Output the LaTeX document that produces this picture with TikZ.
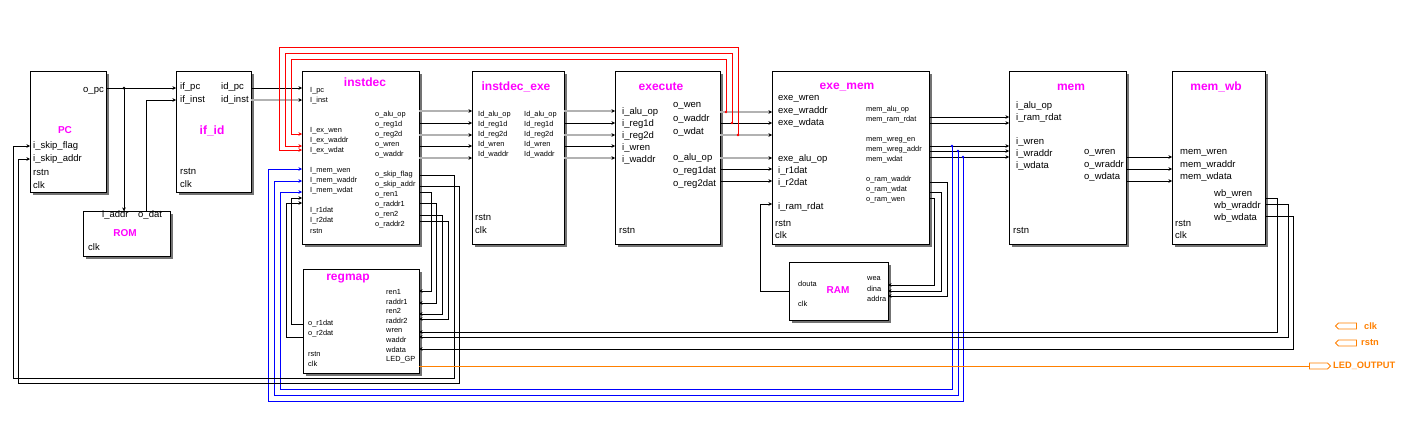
\documentclass[tikz,border=0pt]{standalone}
\usepackage{fontspec}
\setmainfont{Liberation Sans}
\usetikzlibrary{arrows.meta,shapes.symbols}
\definecolor{mag}{RGB}{255,0,255}
\definecolor{org}{RGB}{255,128,0}
\definecolor{busgray}{RGB}{178,178,178}
\definecolor{wblue}{RGB}{0,0,255}
\definecolor{wred}{RGB}{255,0,0}
\begin{document}
\begin{tikzpicture}[x=1pt,y=-1pt,
  blk/.style={draw=black, line width=0.9pt, fill=white, anchor=north west, inner sep=0pt,
    preaction={fill=black!55, draw=none, transform canvas={shift={(2.2pt,-2.2pt)}}}},
  ttl/.style={text=mag, font=\bfseries\fontsize{12}{12}\selectfont, inner sep=0pt},
  ttls/.style={text=mag, font=\bfseries\fontsize{10}{10}\selectfont, inner sep=0pt},
  lb/.style={font=\fontsize{9.5}{9.5}\selectfont, inner sep=0pt, anchor=west},
  ls/.style={font=\fontsize{7.4}{7.4}\selectfont, inner sep=0pt, anchor=west},
  wire/.style={line width=0.9pt, draw=black},
  bus/.style={line width=1.7pt, draw=busgray},
  redw/.style={line width=0.9pt, draw=wred},
  bluew/.style={line width=0.9pt, draw=wblue},
  orgw/.style={line width=0.9pt, draw=org},
  arr/.style={-{Stealth[length=3.5pt,width=3.5pt]}},
  arrk/.style={-{Stealth[length=3.5pt,width=3.5pt,black]}},
  port/.style={signal, draw=org, line width=0.9pt, minimum width=21pt, minimum height=6pt, inner sep=0pt},
  plbl/.style={text=org, font=\bfseries\fontsize{9.3}{9.3}\selectfont, inner sep=0pt, anchor=west},
  dot/.style={circle, fill, inner sep=0pt, minimum size=3pt}
]
\fill[white] (0,0) rectangle (1408,442);
\useasboundingbox (0,0) rectangle (1408,442);

% ---------------- blocks ----------------
\node[blk, minimum width=76pt, minimum height=121pt] (pc) at (30,71) {};
\node[blk, minimum width=87pt, minimum height=45pt] (rom) at (83,211) {};
\node[blk, minimum width=75pt, minimum height=121pt] (ifid) at (176,71) {};
\node[blk, minimum width=117pt, minimum height=173pt] (instdec) at (302,71) {};
\node[blk, minimum width=116pt, minimum height=104pt] (regmap) at (303,269) {};
\node[blk, minimum width=92pt, minimum height=173pt] (idexe) at (472,71) {};
\node[blk, minimum width=105pt, minimum height=173pt] (execute) at (615,71) {};
\node[blk, minimum width=157pt, minimum height=173pt] (exemem) at (772,71) {};
\node[blk, minimum width=99pt, minimum height=58pt] (ram) at (789,262) {};
\node[blk, minimum width=117pt, minimum height=173pt] (mem) at (1009,71) {};
\node[blk, minimum width=93pt, minimum height=173pt] (memwb) at (1172,71) {};

% ---------------- titles ----------------
\node[ttls] (tpc) at (65,130) {PC};
\node[ttls] (trom) at (125,233) {ROM};
\node[ttl] (tifid) at (212,131) {if\_id};
\node[ttl] (tinstdec) at (365,82) {instdec};
\node[ttl] (tregmap) at (348,279) {regmap};
\node[ttl] (tidexe) at (516,87) {instdec\_exe};
\node[ttl] (texecute) at (661,87) {execute};
\node[ttl] (texemem) at (847,87) {exe\_mem};
\node[ttls] (tram) at (838,290) {RAM};
\node[ttl] (tmem) at (1071,87) {mem};
\node[ttl] (tmemwb) at (1216,87) {mem\_wb};

% ---------------- labels ----------------
\node[lb, anchor=east] (l-opc) at (104,91) {o\_pc};
\foreach \t/\y [count=\i] in {i\_skip\_flag/146, i\_skip\_addr/159, rstn/172, clk/185}
  \node[lb] (lpc\i) at (33,\y) {\t};
\node[lb] (lrom1) at (102,215) {i\_addr};
\node[lb] (lrom2) at (138,215) {o\_dat};
\node[lb] (lrom3) at (88,247) {clk};
\foreach \t/\y [count=\i] in {if\_pc/87, if\_inst/100, rstn/171, clk/184}
  \node[lb] (lifa\i) at (180,\y) {\t};
\foreach \t/\y [count=\i] in {id\_pc/87, id\_inst/100}
  \node[lb] (lifb\i) at (221,\y) {\t};

\foreach \t/\y [count=\i] in {I\_pc/91, I\_inst/101, I\_ex\_wen/131, I\_ex\_waddr/141, I\_ex\_wdat/151,
   I\_mem\_wen/171, I\_mem\_waddr/181, I\_mem\_wdat/191, I\_r1dat/211, I\_r2dat/221, rstn/231}
  \node[ls] (lida\i) at (310,\y) {\t};
\foreach \t/\y [count=\i] in {o\_alu\_op/115, o\_reg1d/125, o\_reg2d/135, o\_wren/145, o\_waddr/155,
   o\_skip\_flag/175, o\_skip\_addr/185, o\_ren1/195, o\_raddr1/205, o\_ren2/215, o\_raddr2/225}
  \node[ls] (lidb\i) at (375,\y) {\t};

\foreach \t/\y [count=\i] in {ren1/292, raddr1/302, ren2/311, raddr2/321, wren/331, waddr/340, wdata/350, LED\_GP/360}
  \node[ls] (lrga\i) at (386,\y) {\t};
\foreach \t/\y [count=\i] in {o\_r1dat/324, o\_r2dat/334, rstn/354, clk/364}
  \node[ls] (lrgb\i) at (308,\y) {\t};

\foreach \t/\y [count=\i] in {Id\_alu\_op/115, Id\_reg1d/125, Id\_reg2d/135, Id\_wren/145, Id\_waddr/155} {
  \node[ls] (ldea\i) at (478,\y) {\t};
  \node[ls] (ldeb\i) at (524,\y) {\t};
}
\node[lb] (ldec1) at (475,217) {rstn};
\node[lb] (ldec2) at (475,230) {clk};

\foreach \t/\y [count=\i] in {i\_alu\_op/112, i\_reg1d/124, i\_reg2d/136, i\_wren/148, i\_waddr/160}
  \node[lb] (lexa\i) at (622,\y) {\t};
\foreach \t/\y [count=\i] in {o\_wen/106, o\_waddr/119, o\_wdat/132, o\_alu\_op/158, o\_reg1dat/171, o\_reg2dat/184}
  \node[lb] (lexb\i) at (673,\y) {\t};
\node[lb] (lexc) at (619,230) {rstn};

\foreach \t/\y [count=\i] in {exe\_wren/99, exe\_wraddr/111, exe\_wdata/123, exe\_alu\_op/159, i\_r1dat/171, i\_r2dat/183, i\_ram\_rdat/207}
  \node[lb] (lema\i) at (778,\y) {\t};
\node[lb] (lemc1) at (775,223) {rstn};
\node[lb] (lemc2) at (775,235) {clk};
\foreach \t/\y [count=\i] in {mem\_alu\_op/110, mem\_ram\_rdat/120, mem\_wreg\_en/140, mem\_wreg\_addr/150, mem\_wdat/160,
   o\_ram\_waddr/180, o\_ram\_wdat/190, o\_ram\_wen/200}
  \node[ls] (lemb\i) at (866,\y) {\t};

\node[ls] (lram1) at (798,284) {douta};
\node[ls] (lram2) at (798,304) {clk};
\foreach \t/\y [count=\i] in {wea/279, dina/289, addra/299}
  \node[ls] (lramb\i) at (867,\y) {\t};

\foreach \t/\y [count=\i] in {i\_alu\_op/106, i\_ram\_rdat/118, i\_wren/142, i\_wraddr/154, i\_wdata/166}
  \node[lb] (lmema\i) at (1016,\y) {\t};
\foreach \t/\y [count=\i] in {o\_wren/153, o\_wraddr/165, o\_wdata/177}
  \node[lb] (lmemb\i) at (1084,\y) {\t};
\node[lb] (lmemc) at (1013,230) {rstn};

\foreach \t/\y [count=\i] in {mem\_wren/153, mem\_wraddr/165, mem\_wdata/177}
  \node[lb] (lwba\i) at (1180,\y) {\t};
\foreach \t/\y [count=\i] in {wb\_wren/194, wb\_wraddr/206, wb\_wdata/218}
  \node[lb] (lwbb\i) at (1214,\y) {\t};
\node[lb] (lwbc1) at (1175,223) {rstn};
\node[lb] (lwbc2) at (1175,235) {clk};

% ---------------- ports ----------------
\node[port, signal to=west] (pclk) at (1347.5,326) {};
\node[plbl] (pclkl) at (1364,326) {clk};
\node[port, signal to=west] (prstn) at (1347.5,343) {};
\node[plbl] (prstnl) at (1361,343) {rstn};
\node[port, signal to=east] (pled) at (1318.5,366) {};
\node[plbl] (pledl) at (1333,366) {LED\_OUTPUT};

% ---------------- wires: fetch ----------------
\coordinate (pc-opc) at (106,88);
\coordinate (ifid-ifpc) at (176,88);
\coordinate (j1) at (124,88);
\coordinate (rom-iaddr) at (124,211);
\coordinate (rom-odat) at (146,211);
\coordinate (ifid-ifinst) at (176,100);
\draw[wire,arr] (pc-opc) -- (ifid-ifpc);
\draw[wire,arr] (j1) -- (rom-iaddr);
\draw[wire,arr] (rom-odat) |- (ifid-ifinst);
\node[dot] (dj1) at (j1) {};

\coordinate (ifid-idpc) at (251,88);
\coordinate (id-ipc) at (302,88);
\coordinate (ifid-idinst) at (251,100);
\coordinate (id-iinst) at (302,100);
\draw[wire,arr] (ifid-idpc) -- (id-ipc);
\draw[bus,arrk] (ifid-idinst) -- (id-iinst);

% ---------------- pipeline buses ----------------
\foreach \y/\s [count=\i] in {111/bus,123/wire,135/bus,146/wire,158/bus} {
  \coordinate (ido\i) at (419,\y);
  \coordinate (dei\i) at (472,\y);
  \coordinate (deo\i) at (564,\y);
  \coordinate (exi\i) at (615,\y);
  \draw[\s,arrk] (ido\i) -- (dei\i);
  \draw[\s,arrk] (deo\i) -- (exi\i);
}
\foreach \y/\s [count=\i] in {112/bus,123/wire,135/bus,158/bus,169/wire,181/wire} {
  \coordinate (exo\i) at (720,\y);
  \coordinate (emi\i) at (772,\y);
  \draw[\s,arrk] (exo\i) -- (emi\i);
}
\foreach \y [count=\i] in {117,123,146,151,157} {
  \coordinate (emo\i) at (929,\y);
  \coordinate (mi\i) at (1009,\y);
  \draw[wire,arrk] (emo\i) -- (mi\i);
}
\foreach \y [count=\i] in {157,169,181} {
  \coordinate (mo\i) at (1126,\y);
  \coordinate (wbi\i) at (1172,\y);
  \draw[wire,arrk] (mo\i) -- (wbi\i);
}

% ---------------- red forwarding loops ----------------
\coordinate (rd1) at (726,112);
\coordinate (rd2) at (732,123);
\coordinate (rd3) at (738,135);
\coordinate (id-exwen) at (302,134);
\coordinate (id-exwaddr) at (302,146);
\coordinate (id-exwdat) at (302,150);
\draw[redw,arr] (rd1) -- (726,59) -- (291,59) |- (id-exwen);
\draw[redw,arr] (rd2) -- (732,53) -- (285,53) |- (id-exwaddr);
\draw[redw,arr] (rd3) -- (738,47) -- (279,47) |- (id-exwdat);
\node[dot, fill=wred, minimum size=2.8pt] (drd1) at (rd1) {};
\node[dot, fill=wred, minimum size=2.8pt] (drd2) at (rd2) {};
\node[dot, fill=wred, minimum size=2.8pt] (drd3) at (rd3) {};

% ---------------- blue forwarding loops ----------------
\coordinate (bd1) at (952,146);
\coordinate (bd2) at (958,151);
\coordinate (bd3) at (963,157);
\coordinate (id-memwen) at (302,169);
\coordinate (id-memwaddr) at (302,181);
\coordinate (id-memwdat) at (302,192);
\draw[bluew,arr] (bd1) -- (952,389) -- (280,389) |- (id-memwdat);
\draw[bluew,arr] (bd2) -- (958,395) -- (274,395) |- (id-memwaddr);
\draw[bluew,arr] (bd3) -- (963,401) -- (268,401) |- (id-memwen);
\node[dot, fill=wblue, minimum size=2.8pt] (dbd1) at (bd1) {};
\node[dot, fill=wblue, minimum size=2.8pt] (dbd2) at (bd2) {};
\node[dot, fill=wblue, minimum size=2.8pt] (dbd3) at (bd3) {};

% ---------------- RAM ----------------
\coordinate (em-raddr) at (929,182);
\coordinate (em-rwdat) at (929,192);
\coordinate (em-rwen) at (929,198);
\coordinate (ram-addra) at (888,296);
\coordinate (ram-dina) at (888,291);
\coordinate (ram-wea) at (888,285);
\draw[wire,arr] (em-raddr) -| (947,296) -- (ram-addra);
\draw[wire,arr] (em-rwdat) -| (941,291) -- (ram-dina);
\draw[wire,arr] (em-rwen) -| (934,285) -- (ram-wea);
\coordinate (ram-douta) at (789,291);
\coordinate (em-ramrdat) at (772,204);
\draw[wire,arr] (ram-douta) -| (760,204) -- (em-ramrdat);

% ---------------- write back to regmap ----------------
\coordinate (wb-o1) at (1265,198);
\coordinate (wb-o2) at (1265,204);
\coordinate (wb-o3) at (1265,216);
\coordinate (rg-wren) at (419,332);
\coordinate (rg-waddr) at (419,337);
\coordinate (rg-wdata) at (419,349);
\draw[wire,arr] (wb-o1) -| (1277,332) -- (rg-wren);
\draw[wire,arr] (wb-o2) -| (1288,337) -- (rg-waddr);
\draw[wire,arr] (wb-o3) -| (1293,349) -- (rg-wdata);

% ---------------- instdec -> regmap reads ----------------
\coordinate (id-oren1) at (419,192);
\coordinate (id-oraddr1) at (419,203);
\coordinate (id-oren2) at (419,215);
\coordinate (id-oraddr2) at (419,221);
\coordinate (rg-ren1) at (419,291);
\coordinate (rg-raddr1) at (419,303);
\coordinate (rg-ren2) at (419,314);
\coordinate (rg-raddr2) at (419,319);
\draw[wire,arr] (id-oren1) -| (431,291) -- (rg-ren1);
\draw[wire,arr] (id-oraddr1) -| (436,303) -- (rg-raddr1);
\draw[wire,arr] (id-oren2) -| (442,314) -- (rg-ren2);
\draw[wire,arr] (id-oraddr2) -| (448,319) -- (rg-raddr2);

\coordinate (rg-or1) at (303,324);
\coordinate (rg-or2) at (303,337);
\coordinate (id-ir1) at (302,198);
\coordinate (id-ir2) at (302,203);
\draw[wire,arr] (rg-or1) -| (291,198) -- (id-ir1);
\draw[wire,arr] (rg-or2) -| (286,203) -- (id-ir2);

% ---------------- skip feedback to PC ----------------
\coordinate (id-oskf) at (419,175);
\coordinate (id-oska) at (419,186);
\coordinate (pc-skf) at (30,146);
\coordinate (pc-ska) at (30,159);
\draw[wire,arr] (id-oskf) -| (454,378) -| (13,146) -- (pc-skf);
\draw[wire,arr] (id-oska) -| (459,383) -| (18,159) -- (pc-ska);

% ---------------- LED ----------------
\coordinate (rg-led) at (419,366);
\draw[orgw] (rg-led) -- (pled.west);
\end{tikzpicture}
\end{document}
